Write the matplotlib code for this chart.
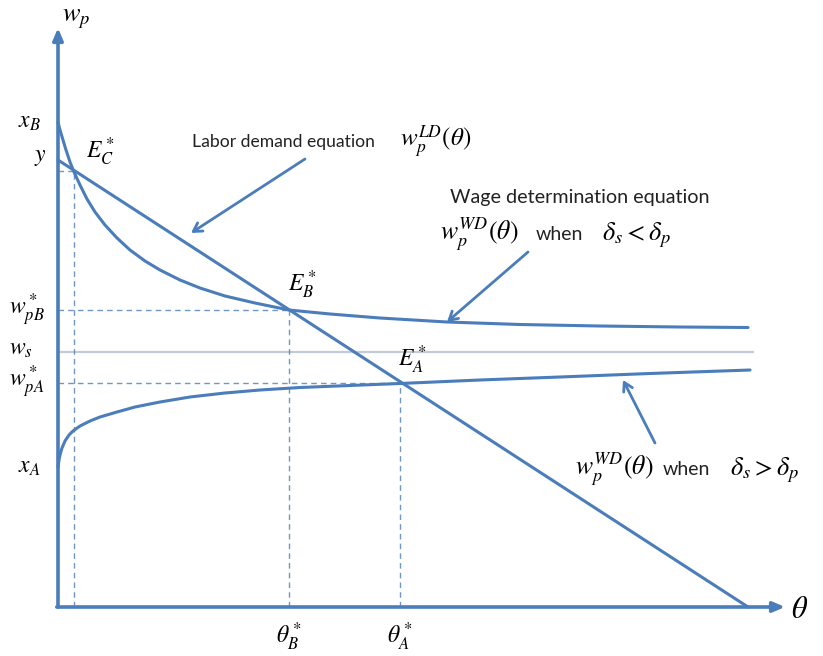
import matplotlib
matplotlib.use("Agg")
import matplotlib.pyplot as plt

plt.rcParams['mathtext.fontset'] = 'stix'
plt.rcParams['font.family'] = ['Lato', 'DejaVu Sans']

# ---------------- data (conceptual units) ----------------
# Labor demand line w_p^LD(theta)
theta_ld = [0.0, 6.90]
w_ld = [4.47, 0.0]

# Wage determination curve when delta_s < delta_p (starts at x_B, decreasing)
theta_wd_hi = [0.00, 0.02, 0.05, 0.08, 0.12, 0.16, 0.22, 0.29, 0.37, 0.47,
               0.59, 0.72, 0.87, 1.02, 1.22, 1.42, 1.67, 1.97, 2.31, 2.72,
               3.22, 3.89, 4.62, 5.42, 6.22, 6.90]
w_wd_hi = [4.85, 4.77, 4.67, 4.57, 4.45, 4.35, 4.22, 4.08, 3.95, 3.82,
           3.69, 3.57, 3.46, 3.37, 3.27, 3.19, 3.11, 3.04, 2.97, 2.93,
           2.89, 2.85, 2.825, 2.81, 2.80, 2.795]

# Wage determination curve when delta_s > delta_p (starts at x_A, increasing)
theta_wd_lo = [0.00, 0.01, 0.02, 0.04, 0.07, 0.11, 0.15, 0.22, 0.32, 0.42,
               0.59, 0.77, 1.02, 1.32, 1.67, 2.02, 2.42, 2.92, 3.42, 4.22,
               5.02, 5.92, 6.92]
w_wd_lo = [1.40, 1.47, 1.52, 1.59, 1.66, 1.72, 1.76, 1.81, 1.86, 1.90,
           1.95, 2.00, 2.05, 2.10, 2.14, 2.17, 2.195, 2.215, 2.235, 2.27,
           2.30, 2.335, 2.37]

# Reservation wage w_s
w_s = 2.55
theta_ws_end = 6.95

# Equilibria (theta, w)
eq_names = ['C', 'B', 'A']
eq_theta = [0.16, 2.31, 3.42]
eq_w = [4.36, 2.97, 2.24]

# Axis extents
theta_max = 7.27
w_max = 5.79

BLUE = '#4a7dba'
LIGHT = '#c3cbd6'

fig = plt.figure(figsize=(8.23, 6.56), dpi=100)
ax = fig.add_axes([0, 0, 1, 1])
ax.set_xlim(-0.58, 7.65)
ax.set_ylim(-0.49, 6.07)
ax.axis('off')

# axes with arrows
ax.annotate('', xy=(0, w_max), xytext=(0, 0),
            arrowprops=dict(arrowstyle='-|>,head_length=0.7,head_width=0.3',
                            color=BLUE, lw=2.6, shrinkA=0, shrinkB=0))
ax.annotate('', xy=(theta_max, 0), xytext=(-0.012, 0),
            arrowprops=dict(arrowstyle='-|>,head_length=0.7,head_width=0.3',
                            color=BLUE, lw=2.6, shrinkA=0, shrinkB=0))

# w_s line
ax.plot([0, theta_ws_end], [w_s, w_s], color=LIGHT, lw=1.6, zorder=1)

# dashed guides
for th, w in zip(eq_theta, eq_w):
    ax.plot([0, th], [w, w], color=BLUE, lw=1.0, ls=(0, (4, 3)), alpha=0.8, zorder=1)
    ax.plot([th, th], [0, w], color=BLUE, lw=1.0, ls=(0, (4, 3)), alpha=0.8, zorder=1)

# curves
curve_kw = dict(color=BLUE, lw=2.2, solid_capstyle='round',
                solid_joinstyle='round', zorder=3)
ax.plot(theta_ld, w_ld, **curve_kw)
ax.plot(theta_wd_hi, w_wd_hi, **curve_kw)
ax.plot(theta_wd_lo, w_wd_lo, **curve_kw)

# axis labels
ax.text(0.04, 5.88, r'$w_p$', fontsize=19, ha='left', va='center')
ax.text(7.42, -0.02, r'$\theta$', fontsize=22, ha='center', va='center')

# y-axis tick labels
ax.text(-0.40, 4.85, r'$x_B$', fontsize=17, ha='left', va='center')
ax.text(-0.24, 4.49, r'$y$', fontsize=17, ha='left', va='center')
ax.text(-0.49, 2.97, r'$w^*_{pB}$', fontsize=17, ha='left', va='center')
ax.text(-0.49, 2.58, r'$w_s$', fontsize=17, ha='left', va='center')
ax.text(-0.49, 2.25, r'$w^*_{pA}$', fontsize=17, ha='left', va='center')
ax.text(-0.40, 1.40, r'$x_A$', fontsize=17, ha='left', va='center')

# equilibrium labels
ax.text(0.42, 4.55, r'$E^*_C$', fontsize=17, ha='center', va='center')
ax.text(2.44, 3.22, r'$E^*_B$', fontsize=17, ha='center', va='center')
ax.text(3.54, 2.47, r'$E^*_A$', fontsize=17, ha='center', va='center')

# theta tick labels
ax.text(eq_theta[1], -0.30, r'$\theta^*_B$', fontsize=17, ha='center', va='center')
ax.text(eq_theta[2], -0.30, r'$\theta^*_A$', fontsize=17, ha='center', va='center')

# annotations
TXT = '#222222'
ax.text(1.34, 4.60, 'Labor demand equation', fontsize=12.6, color=TXT,
        ha='left', va='baseline')
ax.text(3.42, 4.60, r'$w_p^{LD}(\theta)$', fontsize=18, ha='left', va='baseline')

ax.text(3.92, 4.04, 'Wage determination equation', fontsize=14.2, color=TXT,
        ha='left', va='baseline')
ax.text(3.82, 3.67, r'$w_p^{WD}(\theta)$', fontsize=18.5, ha='left', va='baseline')
ax.text(4.78, 3.67, 'when', fontsize=14, color=TXT, ha='left', va='baseline')
ax.text(5.44, 3.67, r'$\delta_s < \delta_p$', fontsize=19, ha='left', va='baseline')

ax.text(5.17, 1.32, r'$w_p^{WD}(\theta)$', fontsize=18.5, ha='left', va='baseline')
ax.text(6.05, 1.32, 'when', fontsize=14, color=TXT, ha='left', va='baseline')
ax.text(6.72, 1.32, r'$\delta_s > \delta_p$', fontsize=19, ha='left', va='baseline')

arrow_kw = dict(arrowstyle='->,head_length=0.6,head_width=0.35', color=BLUE,
                lw=2.0, shrinkA=0, shrinkB=0)
ax.annotate('', xy=(1.33, 3.74), xytext=(2.47, 4.48), arrowprops=arrow_kw)
ax.annotate('', xy=(3.89, 2.85), xytext=(4.70, 3.55), arrowprops=arrow_kw)
ax.annotate('', xy=(5.65, 2.27), xytext=(5.97, 1.64), arrowprops=arrow_kw)

fig.savefig('out.png', dpi=100)
